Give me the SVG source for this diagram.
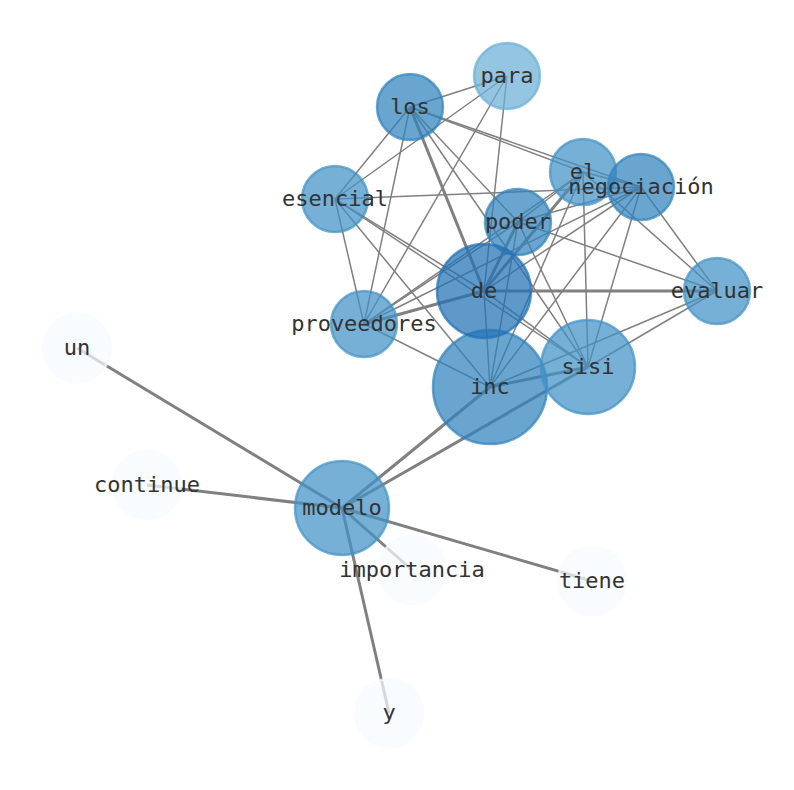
<svg xmlns="http://www.w3.org/2000/svg" width="794" height="790" viewBox="0 0 794 790">
<style>
.e{stroke:#808080;stroke-width:1.5;fill:none}
.t{stroke-width:3}
.n{fill-opacity:0.72;stroke-opacity:0.72;stroke-width:2.5}
.c0{fill:#6baed6;stroke:#6baed6}
.c1{fill:#4292c6;stroke:#4292c6}
.c2{fill:#3182bd;stroke:#3182bd}
.c3{fill:#2171b5;stroke:#2171b5}
.c4{fill:#f7fbff;stroke:#f7fbff}
text{font-family:"DejaVu Sans Mono","Liberation Mono",monospace;font-size:22px;fill:#333;text-anchor:middle}
</style>
<rect width="794" height="790" fill="#fff"/>
<g id="edges">
<line class="e" x1="507" y1="76" x2="410" y2="107"/>
<line class="e" x1="507" y1="76" x2="335" y2="199"/>
<line class="e" x1="507" y1="76" x2="364" y2="324"/>
<line class="e" x1="507" y1="76" x2="484" y2="291"/>
<line class="e" x1="410" y1="107" x2="335" y2="199"/>
<line class="e" x1="410" y1="107" x2="364" y2="324"/>
<line class="e t" x1="410" y1="107" x2="484" y2="291"/>
<line class="e" x1="410" y1="107" x2="588" y2="367"/>
<line class="e" x1="410" y1="107" x2="583" y2="172"/>
<line class="e" x1="410" y1="107" x2="641" y2="187"/>
<line class="e" x1="410" y1="107" x2="518" y2="222"/>
<line class="e" x1="335" y1="199" x2="364" y2="324"/>
<line class="e" x1="335" y1="199" x2="641" y2="187"/>
<line class="e" x1="335" y1="199" x2="484" y2="291"/>
<line class="e" x1="335" y1="199" x2="588" y2="367"/>
<line class="e" x1="335" y1="199" x2="490" y2="387"/>
<line class="e" x1="364" y1="324" x2="518" y2="222"/>
<line class="e" x1="364" y1="324" x2="583" y2="172"/>
<line class="e" x1="364" y1="324" x2="641" y2="187"/>
<line class="e t" x1="364" y1="324" x2="484" y2="291"/>
<line class="e" x1="364" y1="324" x2="490" y2="387"/>
<line class="e t" x1="518" y1="222" x2="484" y2="291"/>
<line class="e" x1="518" y1="222" x2="583" y2="172"/>
<line class="e" x1="518" y1="222" x2="641" y2="187"/>
<line class="e" x1="518" y1="222" x2="717" y2="291"/>
<line class="e" x1="518" y1="222" x2="588" y2="367"/>
<line class="e" x1="518" y1="222" x2="490" y2="387"/>
<line class="e" x1="583" y1="172" x2="641" y2="187"/>
<line class="e t" x1="583" y1="172" x2="484" y2="291"/>
<line class="e" x1="583" y1="172" x2="588" y2="367"/>
<line class="e" x1="583" y1="172" x2="717" y2="291"/>
<line class="e" x1="583" y1="172" x2="490" y2="387"/>
<line class="e" x1="641" y1="187" x2="484" y2="291"/>
<line class="e" x1="641" y1="187" x2="717" y2="291"/>
<line class="e" x1="641" y1="187" x2="588" y2="367"/>
<line class="e" x1="641" y1="187" x2="490" y2="387"/>
<line class="e t" x1="484" y1="291" x2="717" y2="291"/>
<line class="e" x1="484" y1="291" x2="490" y2="387"/>
<line class="e" x1="484" y1="291" x2="588" y2="367"/>
<line class="e" x1="717" y1="291" x2="588" y2="367"/>
<line class="e" x1="717" y1="291" x2="490" y2="387"/>
<line class="e t" x1="490" y1="387" x2="588" y2="367"/>
<line class="e t" x1="342" y1="508" x2="490" y2="387"/>
<line class="e t" x1="342" y1="508" x2="588" y2="367"/>
<line class="e t" x1="342" y1="508" x2="77" y2="348"/>
<line class="e t" x1="342" y1="508" x2="147" y2="485"/>
<line class="e t" x1="342" y1="508" x2="412" y2="570"/>
<line class="e t" x1="342" y1="508" x2="592" y2="581"/>
<line class="e t" x1="342" y1="508" x2="389" y2="713"/>
</g>
<g id="n-para"><circle class="n c0" cx="507" cy="76" r="33"/></g>
<g id="n-los"><circle class="n c2" cx="410" cy="107" r="33"/></g>
<g id="n-esencial"><circle class="n c1" cx="335" cy="199" r="33"/></g>
<g id="n-el"><circle class="n c1" cx="583" cy="172" r="33"/></g>
<g id="n-negociacion"><circle class="n c2" cx="641" cy="187" r="33"/></g>
<g id="n-poder"><circle class="n c2" cx="518" cy="222" r="33"/></g>
<g id="n-evaluar"><circle class="n c1" cx="717" cy="291" r="33"/></g>
<g id="n-proveedores"><circle class="n c1" cx="364" cy="324" r="33"/></g>
<g id="n-inc"><circle class="n c2" cx="490" cy="387" r="57"/></g>
<g id="n-de"><circle class="n c3" cx="484" cy="291" r="47"/></g>
<g id="n-sisi"><circle class="n c1" cx="588" cy="367" r="47"/></g>
<g id="n-modelo"><circle class="n c1" cx="342" cy="508" r="47"/></g>
<g id="n-un"><circle class="n c4" cx="77" cy="348" r="34"/></g>
<g id="n-continue"><circle class="n c4" cx="147" cy="485" r="34"/></g>
<g id="n-importancia"><circle class="n c4" cx="412" cy="570" r="34"/></g>
<g id="n-tiene"><circle class="n c4" cx="592" cy="581" r="34"/></g>
<g id="n-y"><circle class="n c4" cx="389" cy="713" r="34"/></g>
<g id="labels">
<text x="507" y="83">para</text>
<text x="410" y="114">los</text>
<text x="335" y="206">esencial</text>
<text x="583" y="179">el</text>
<text x="641" y="194">negociación</text>
<text x="518" y="229">poder</text>
<text x="484" y="298">de</text>
<text x="717" y="298">evaluar</text>
<text x="364" y="331">proveedores</text>
<text x="490" y="394">inc</text>
<text x="588" y="374">sisi</text>
<text x="342" y="515">modelo</text>
<text x="77" y="355">un</text>
<text x="147" y="492">continue</text>
<text x="412" y="577">importancia</text>
<text x="592" y="588">tiene</text>
<text x="389" y="720">y</text>
</g>
</svg>
